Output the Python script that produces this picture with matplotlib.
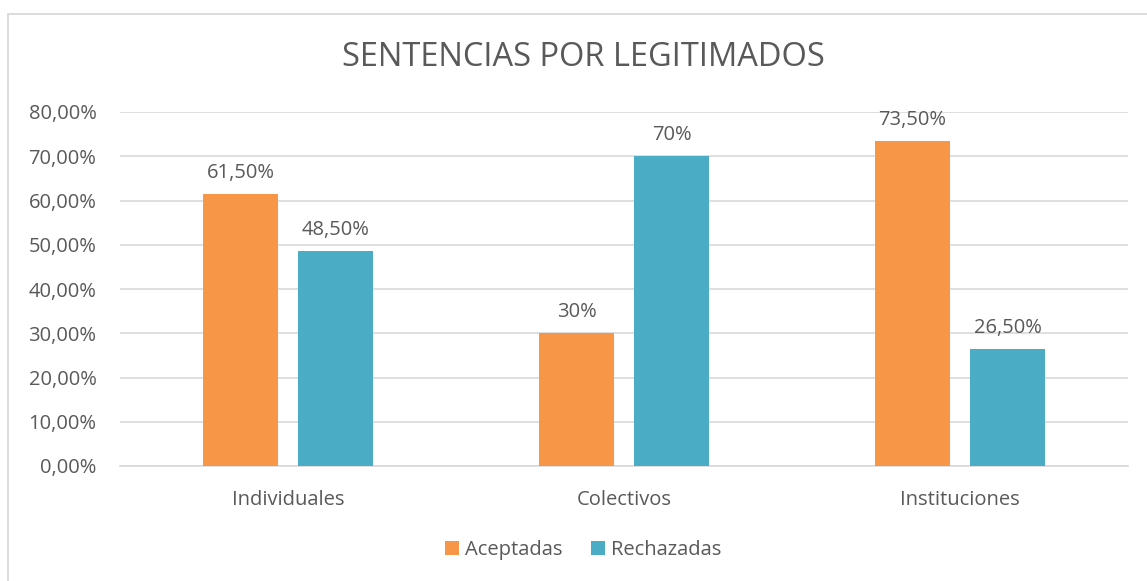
import matplotlib.pyplot as plt
from matplotlib.patches import Rectangle
import numpy as np

# datos del grafico
categorias = ["Individuales", "Colectivos", "Instituciones"]
aceptadas = [0.615, 0.30, 0.735]
rechazadas = [0.485, 0.70, 0.265]
etiquetas_aceptadas = ["61,50%", "30%", "73,50%"]
etiquetas_rechazadas = ["48,50%", "70%", "26,50%"]
yticks = [0.0, 0.1, 0.2, 0.3, 0.4, 0.5, 0.6, 0.7, 0.8]
ytick_labels = ["0,00%", "10,00%", "20,00%", "30,00%", "40,00%", "50,00%", "60,00%", "70,00%", "80,00%"]

naranja = "#F79646"
azul = "#4BACC6"
gris = "#595959"

plt.rcParams['font.family'] = ['Open Sans', 'DejaVu Sans']

fig = plt.figure(figsize=(11.47, 5.81), dpi=100)
W, H = 1147, 581
ax = fig.add_axes([120 / W, 115 / H, 1008 / W, 354 / H])

x = np.arange(len(categorias))
ancho = 0.223
sep = 0.03 + ancho / 2
b1 = ax.bar(x - sep, aceptadas, ancho, color=naranja, label="Aceptadas", zorder=3)
b2 = ax.bar(x + sep, rechazadas, ancho, color=azul, label="Rechazadas", zorder=3)

for barras, etiquetas in ((b1, etiquetas_aceptadas), (b2, etiquetas_rechazadas)):
    for b, t in zip(barras, etiquetas):
        ax.annotate(t, (b.get_x() + b.get_width() / 2, b.get_height()),
                    xytext=(0, 8), textcoords="offset points",
                    ha="center", va="bottom", fontsize=14.5, color=gris)

ax.set_xlim(-0.5, 2.5)
ax.set_ylim(0, 0.8)
ax.set_yticks(yticks)
ax.set_yticklabels(ytick_labels, fontsize=14.5, color=gris)
ax.set_xticks(x)
ax.set_xticklabels(categorias, fontsize=14.5, color=gris)
ax.tick_params(length=0)
ax.tick_params(axis="x", pad=17)
ax.tick_params(axis="y", pad=17)
ax.grid(axis="y", color="#D9D9D9", linewidth=1.2, zorder=0)
for s in ("top", "right", "left"):
    ax.spines[s].set_visible(False)
ax.spines["bottom"].set_color("#D9D9D9")
ax.spines["bottom"].set_linewidth(1.2)

fig.text(583 / W, 1 - 57 / H, "SENTENCIAS POR LEGITIMADOS", ha="center", va="center",
         fontsize=23.5, color=gris)

fig.legend(handles=[b1, b2], loc="center", bbox_to_anchor=(583 / W, 1 - 550 / H),
           ncol=2, frameon=False, fontsize=14.5, labelcolor=gris,
           handlelength=0.7, handleheight=0.7, handletextpad=0.3, columnspacing=1.4)

# borde del area del grafico
fig.patches.append(Rectangle((8 / W, -0.01), 1.02, 1 - 14 / H + 0.01, transform=fig.transFigure,
                             fill=False, edgecolor="#D9D9D9", linewidth=1.3))

plt.savefig("out.png", dpi=100)
